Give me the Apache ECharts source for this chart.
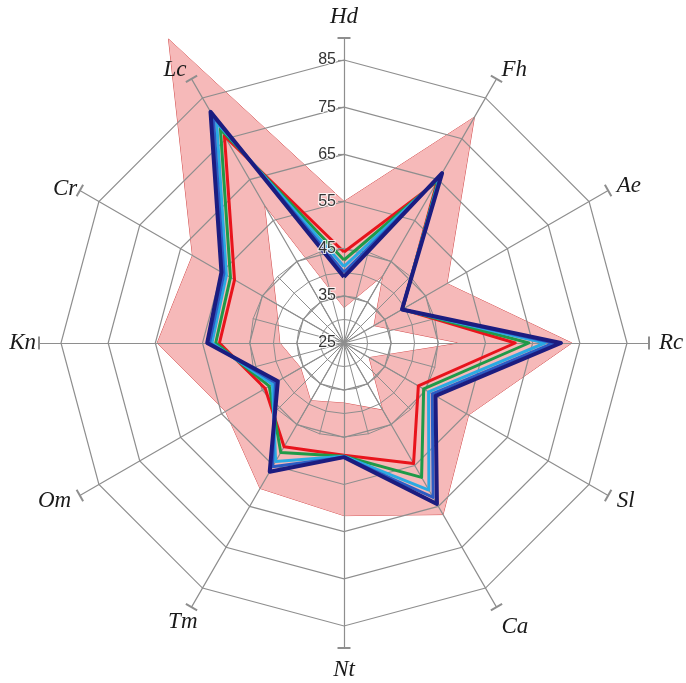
<!DOCTYPE html>
<html>
<head>
<meta charset="utf-8">
<script src="https://cdn.jsdelivr.net/npm/echarts@6/dist/echarts.min.js"></script>
<style>
  html, body { margin: 0; padding: 0; background: #fff; }
  #chart { width: 686px; height: 683px; }
</style>
</head>
<body>
<div id="chart"></div>
<script>
// axes, clockwise from the top
var axisNames = ['Hd', 'Fh', 'Ae', 'Rc', 'Sl', 'Ca', 'Nt', 'Tm', 'Om', 'Kn', 'Cr', 'Lc'];
var scaleMin = 25;
var scaleMax = 85;

// pink band (outer and inner edge)
var bandOuter = [55, 80.3, 50.2, 73.3, 55.5, 67, 61.6, 60.6, 54, 64.6, 62.1, 99.4];
var bandInner = [32.4, 41.3, 32.2, 49, 31, 41.3, 37.6, 39, 35.5, 38.5, 41.5, 58.5];

// the five lines
var redLine   = [44.3, 64.5, 39.3, 61.3, 43.2, 54.5, 48.8, 50.4, 44.3, 51.4, 51.8, 75.7];
var greenLine = [42.6, 65, 39.3, 64.2, 44.5, 57.9, 49, 51.8, 43.3, 52.2, 52.8, 77.4];
var cyanLine  = [41.2, 65.6, 39.2, 67.6, 45.7, 61, 49, 54, 42.5, 53, 53.8, 79];
var blueLine  = [40, 66, 39.2, 69.5, 46.6, 62.8, 49.2, 55.3, 41.8, 53.5, 54.4, 80.4];
var navyLine  = [39, 66.6, 39.2, 71, 47.4, 64.4, 49.2, 56.5, 41.2, 54, 55, 81.6];

var gridColor = '#8e8e8e';
var center = [344, 343];

// a few names sit a bit differently from the default placement
var nameTweaks = {
  Kn: { nameGap: 3 },
  Cr: { nameGap: 3 },
  Ca: { nameTextStyle: { verticalAlign: 'top' } },
  Tm: { nameGap: -12, nameTextStyle: { align: 'right', verticalAlign: 'top', padding: [14, 0, 0, 0] } }
};

// echarts lays indicators out counter-clockwise, so flip everything after the first
function ccw(arr) {
  return [arr[0]].concat(arr.slice(1).reverse());
}

var myChart = echarts.init(document.getElementById('chart'));

var inner = [];
for (var i = 0; i < 24; i++) {
  inner.push({ name: '', min: 0, max: 1 });
}

function lineSeries(values, color, width) {
  return {
    type: 'radar',
    radarIndex: 0,
    z: 4,
    symbol: 'none',
    silent: true,
    data: [{ value: ccw(values) }],
    lineStyle: { color: color, width: width }
  };
}

var option = {
  animation: false,
  backgroundColor: '#fff',
  radar: [
    {
      // rings and the data
      z: 3,
      center: center,
      radius: 283,
      startAngle: 90,
      splitNumber: 6,
      shape: 'polygon',
      indicator: ccw(axisNames).map(function (n) {
        return { name: n, min: scaleMin, max: scaleMax };
      }),
      axisName: { show: false },
      axisLine: { show: false },
      axisTick: { show: false },
      axisLabel: { show: false },
      splitLine: { lineStyle: { color: gridColor, width: 1.2 } },
      splitArea: { show: false }
    },
    {
      // spokes with their end caps, and the names
      z: 3,
      center: center,
      radius: 305,
      startAngle: 90,
      splitNumber: 1,
      shape: 'polygon',
      indicator: ccw(axisNames).map(function (n) {
        var o = { name: n, min: 0, max: 1 };
        var t = nameTweaks[n];
        if (t) {
          if (t.nameGap != null) o.nameGap = t.nameGap;
          if (t.nameTextStyle) o.nameTextStyle = t.nameTextStyle;
        }
        return o;
      }),
      axisName: { color: '#1a1a1a', fontSize: 23, fontStyle: 'italic', fontFamily: 'Liberation Serif' },
      nameGap: 10,
      axisLine: {
        show: true,
        symbol: ['none', 'rect'],
        symbolSize: [13, 2],
        lineStyle: { color: gridColor, width: 1.2 }
      },
      axisTick: { show: false },
      axisLabel: { show: false },
      splitLine: { show: false },
      splitArea: { show: false }
    },
    {
      // finer web in the middle
      z: 3,
      center: center,
      radius: 94,
      startAngle: 90,
      splitNumber: 4,
      shape: 'polygon',
      indicator: inner,
      axisName: { show: false },
      axisLine: { lineStyle: { color: gridColor, width: 1 } },
      axisTick: { show: false },
      axisLabel: { show: false },
      splitLine: { lineStyle: { color: gridColor, width: 1 } },
      splitArea: { show: false }
    },
    {
      // tick labels on the Hd axis, above the lines
      z: 6,
      center: center,
      radius: 283,
      startAngle: 90,
      splitNumber: 6,
      shape: 'polygon',
      indicator: ccw(axisNames).map(function (n, idx) {
        var o = { name: n, min: scaleMin, max: scaleMax };
        if (idx === 0) {
          o.axisLabel = { show: true };
          o.axisTick = { show: true };
        }
        return o;
      }),
      axisName: { show: false },
      axisLine: { show: false },
      axisTick: { show: false, length: 6, lineStyle: { color: gridColor, width: 1.2 } },
      axisLabel: {
        show: false,
        color: '#333',
        fontSize: 16,
        fontFamily: 'Liberation Sans',
        margin: 8,
        textBorderColor: 'rgba(255,255,255,0.85)',
        textBorderWidth: 2
      },
      splitLine: { show: false },
      splitArea: { show: false }
    }
  ],
  series: [
    {
      type: 'radar',
      radarIndex: 0,
      z: 1,
      symbol: 'none',
      silent: true,
      data: [{ value: ccw(bandOuter) }],
      lineStyle: { color: '#d24a4a', width: 1 },
      areaStyle: { color: '#f6b9b9', opacity: 1 }
    },
    {
      type: 'radar',
      radarIndex: 0,
      z: 2,
      symbol: 'none',
      silent: true,
      data: [{ value: ccw(bandInner) }],
      lineStyle: { color: '#d24a4a', width: 1 },
      areaStyle: { color: '#ffffff', opacity: 1 }
    },
    lineSeries(redLine, '#e8141c', 3),
    lineSeries(greenLine, '#1f9a48', 3),
    lineSeries(cyanLine, '#2aaae2', 3),
    lineSeries(blueLine, '#2b5cc4', 3),
    lineSeries(navyLine, '#1c1c80', 4)
  ]
};

myChart.setOption(option);
</script>
</body>
</html>
